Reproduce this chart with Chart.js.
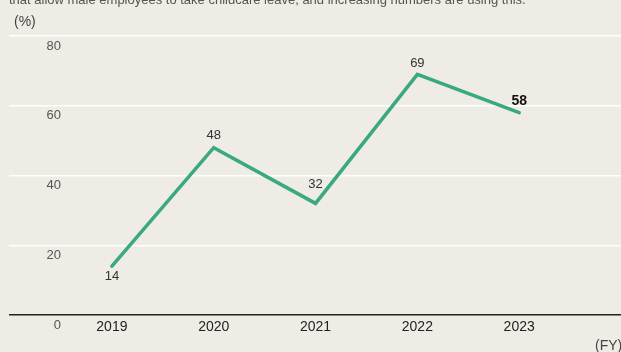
<!DOCTYPE html>
<html>
<head>
<meta charset="utf-8">
<script src="https://cdn.jsdelivr.net/npm/chart.js@4.4.1/dist/chart.umd.min.js"></script>
<style>
  html, body { margin: 0; padding: 0; background: #efebe5; }
  #wrap { position: relative; width: 621px; height: 352px; overflow: hidden; background: #efebe5;
          font-family: "Liberation Sans", Arial, sans-serif; }
  #chart { position: absolute; left: 0; top: 0; }
  .note { position: absolute; white-space: nowrap; color: #444; }
  #lead { left: 9px; top: -8px; font-size: 13px; line-height: 15px; color: #555; }
  #unitY { left: 14px; top: 13px; font-size: 14px; line-height: 16px; }
  #unitX { left: 595px; top: 337px; font-size: 14px; line-height: 16px; }
</style>
</head>
<body>
<div id="wrap">
  <canvas id="chart" width="621" height="352"></canvas>
  <div class="note" id="lead">that allow male employees to take childcare leave, and increasing numbers are using this.</div>
  <div class="note" id="unitY">(%)</div>
  <div class="note" id="unitX">(FY)</div>
</div>
<script>
// Share of male employees taking childcare leave, by fiscal year
const fiscalYears = [2019, 2020, 2021, 2022, 2023];
const leaveRate = [14, 48, 32, 69, 58];
const yTicks = [0, 20, 40, 60, 80];

// vertical nudge for each value label (px), and which one is emphasised
const labelShift = [10, -12, -19, -11, -12];
const emphasisIndex = 4;

const points = fiscalYears.map((yr, i) => ({ x: yr, y: leaveRate[i] }));

const valueLabels = {
  id: 'valueLabels',
  afterDatasetsDraw(chart) {
    const { ctx } = chart;
    const meta = chart.getDatasetMeta(0);
    ctx.save();
    ctx.textAlign = 'center';
    ctx.textBaseline = 'middle';
    meta.data.forEach((pt, i) => {
      const strong = i === emphasisIndex;
      ctx.font = (strong ? 'bold 14px' : '13px') + ' "Liberation Sans", Arial, sans-serif';
      ctx.fillStyle = strong ? '#111' : '#333';
      ctx.fillText(String(leaveRate[i]), pt.x, pt.y + labelShift[i]);
    });
    ctx.restore();
  }
};

new Chart(document.getElementById('chart'), {
  type: 'line',
  data: {
    datasets: [{
      data: points,
      borderColor: '#3aa982',
      borderWidth: 3.5,
      borderCapStyle: 'round',
      borderJoinStyle: 'miter',
      pointRadius: 0,
      pointHoverRadius: 0,
      tension: 0,
      fill: false
    }]
  },
  options: {
    responsive: false,
    animation: false,
    events: [],
    layout: { padding: { left: 9, right: 0, top: 36, bottom: 0 } },
    plugins: { legend: { display: false }, tooltip: { enabled: false } },
    scales: {
      x: {
        type: 'linear',
        min: 2018.5,
        max: 2024,
        afterBuildTicks(scale) { scale.ticks = fiscalYears.map(v => ({ value: v })); },
        afterFit(scale) { scale.height = 37; },
        grid: { display: false, drawTicks: false },
        border: { display: false },
        ticks: {
          padding: 4,
          color: '#222',
          font: { family: '"Liberation Sans", Arial, sans-serif', size: 14 },
          callback: v => String(v),
          maxRotation: 0
        }
      },
      y: {
        min: 0,
        max: 80,
        afterBuildTicks(scale) { scale.ticks = yTicks.map(v => ({ value: v })); },
        afterFit(scale) { scale.width = 52; },
        border: { display: false },
        grid: {
          drawTicks: true,
          tickLength: 52,
          color: c => (c.tick && c.tick.value === 0 ? '#222' : '#ffffff'),
          lineWidth: 1.4
        },
        ticks: {
          padding: -52,
          labelOffset: 10,
          color: '#555',
          font: { family: '"Liberation Sans", Arial, sans-serif', size: 13 }
        }
      }
    }
  },
  plugins: [valueLabels]
});
</script>
</body>
</html>
